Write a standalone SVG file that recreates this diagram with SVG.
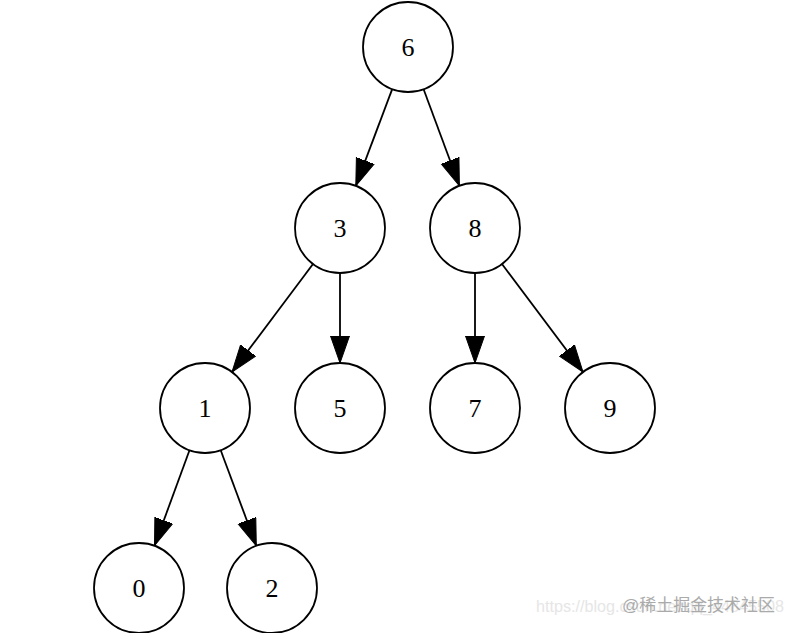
<svg xmlns="http://www.w3.org/2000/svg" width="790" height="633" viewBox="0 0 790 633">
<style>
.n circle{fill:#fff;stroke:#000;stroke-width:1.8}
.n text{font-family:"Liberation Serif","Times New Roman",serif;font-size:26px;text-anchor:middle;fill:#000}
.e line{stroke:#000;stroke-width:1.8;marker-end:url(#ah)}
.wm{font-family:"Liberation Sans","Noto Sans CJK SC",sans-serif;font-size:17px}
</style>
<defs>
<marker id="ah" markerUnits="userSpaceOnUse" markerWidth="30" markerHeight="22" refX="27" refY="10" orient="auto">
<path d="M0,0.5 L27,10 L0,19.5 z" fill="#000" stroke="#000" stroke-width="1"/>
</marker>
</defs>
<rect width="790" height="633" fill="#fff"/>
<g id="edges" class="e">
<line x1="392.2" y1="89.1" x2="355.8" y2="185.9"/>
<line x1="423.6" y1="89.2" x2="459.4" y2="185.8"/>
<line x1="313" y1="264" x2="232" y2="372"/>
<line x1="340" y1="273" x2="340" y2="363"/>
<line x1="475" y1="273" x2="475" y2="363"/>
<line x1="502" y1="264" x2="583" y2="372"/>
<line x1="189.5" y1="450.3" x2="154.5" y2="545.7"/>
<line x1="220.7" y1="450.2" x2="256.3" y2="545.8"/>
</g>
<g id="n6" class="n"><circle cx="408" cy="47" r="45"/><text x="408" y="56">6</text></g>
<g id="n3" class="n"><circle cx="340" cy="228" r="45"/><text x="340" y="237">3</text></g>
<g id="n8" class="n"><circle cx="475" cy="228" r="45"/><text x="475" y="237">8</text></g>
<g id="n1" class="n"><circle cx="205" cy="408" r="45"/><text x="205" y="417">1</text></g>
<g id="n5" class="n"><circle cx="340" cy="408" r="45"/><text x="340" y="417">5</text></g>
<g id="n7" class="n"><circle cx="475" cy="408" r="45"/><text x="475" y="417">7</text></g>
<g id="n9" class="n"><circle cx="610" cy="408" r="45"/><text x="610" y="417">9</text></g>
<g id="n0" class="n"><circle cx="139" cy="588" r="45"/><text x="139" y="597">0</text></g>
<g id="n2" class="n"><circle cx="272" cy="588" r="45"/><text x="272" y="597">2</text></g>
<text class="wm" x="536" y="612" fill="#e6e6e6" textLength="248" lengthAdjust="spacingAndGlyphs">https://blog.csdn.net/qq_44845508</text>
<text class="wm" x="622" y="611" fill="#aaaaaa" textLength="153" lengthAdjust="spacingAndGlyphs">@稀土掘金技术社区</text>
</svg>
